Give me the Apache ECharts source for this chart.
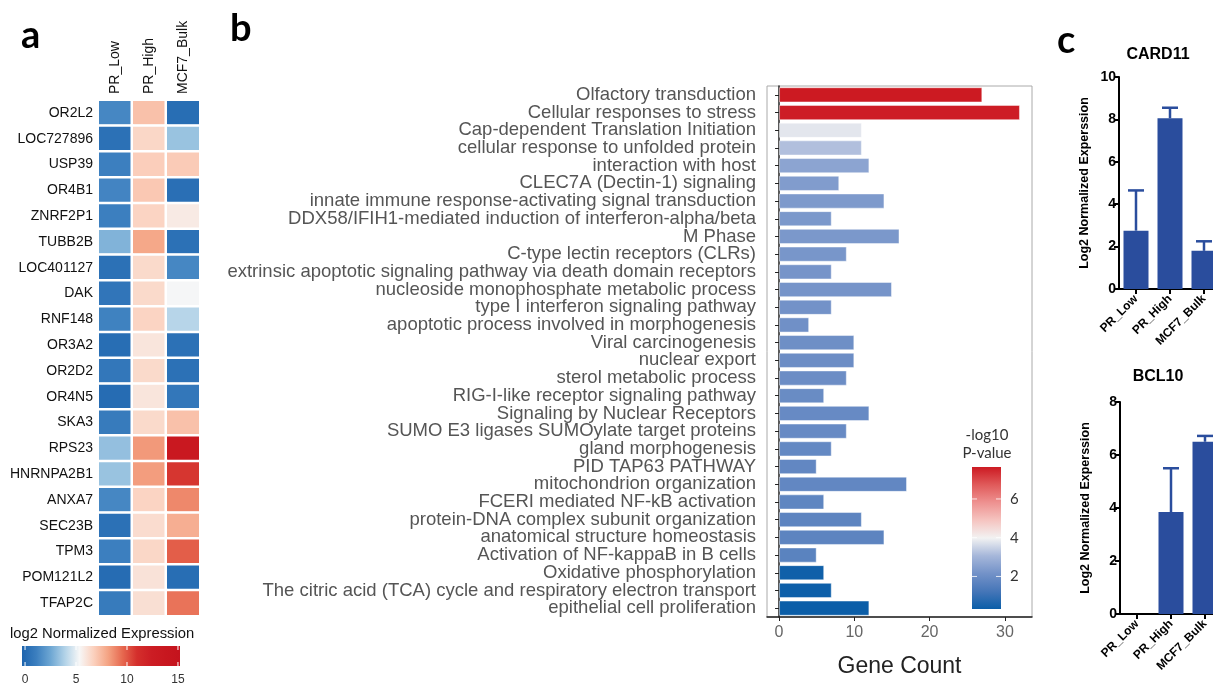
<!DOCTYPE html>
<html>
<head>
<meta charset="utf-8">
<script src="https://cdn.jsdelivr.net/npm/echarts@6/dist/echarts.min.js"></script>
<style>
html, body { margin: 0; padding: 0; background: #fff; }
#main { width: 1213px; height: 686px; }
</style>
</head>
<body>
<div id="main"></div>
<script>
// ---------- Panel a: log2 normalized expression heatmap ----------
const heatSamples = ['PR_Low', 'PR_High', 'MCF7_Bulk'];
const heatGenes = ['OR2L2', 'LOC727896', 'USP39', 'OR4B1', 'ZNRF2P1', 'TUBB2B', 'LOC401127', 'DAK',
  'RNF148', 'OR3A2', 'OR2D2', 'OR4N5', 'SKA3', 'RPS23', 'HNRNPA2B1', 'ANXA7', 'SEC23B', 'TPM3',
  'POM121L2', 'TFAP2C'];
const heatPRLow  = [1.4, 0.4, 1.1, 1.3, 1.1, 2.9, 0.4, 0.6, 1.2, 0.2, 0.7, 0.1, 0.9, 3.3, 3.4, 1.4, 0.4, 1.1, 0.1, 0.9];
const heatPRHigh = [7.2, 6.5, 6.8, 7.0, 6.6, 8.0, 6.4, 6.4, 6.6, 6.0, 6.4, 6.0, 6.4, 8.4, 8.3, 6.6, 6.3, 6.5, 6.1, 6.2];
const heatMCF7   = [0.2, 3.4, 6.9, 0.3, 5.8, 0.4, 1.4, 5.3, 4.0, 0.4, 0.4, 0.7, 7.2, 13.5, 10.8, 8.8, 7.8, 9.8, 0.2, 9.3];
const heatLegendTicks = [0, 5, 10, 15];
const heatMin = -0.3, heatMax = 15.2;
const heatPalette = ['#1d64ae', '#3c7fbf', '#6ea7d3', '#b3d3e8', '#f7f7f7', '#fbd0bd',
  '#f4a383', '#e6684f', '#d42f2c', '#cc1d24', '#c8171f', '#c4131d'];

// ---------- Panel b: enriched pathways ----------
const pathways = [
  'Olfactory transduction',
  'Cellular responses to stress',
  'Cap-dependent Translation Initiation',
  'cellular response to unfolded protein',
  'interaction with host',
  'CLEC7A (Dectin-1) signaling',
  'innate immune response-activating signal transduction',
  'DDX58/IFIH1-mediated induction of interferon-alpha/beta',
  'M Phase',
  'C-type lectin receptors (CLRs)',
  'extrinsic apoptotic signaling pathway via death domain receptors',
  'nucleoside monophosphate metabolic process',
  'type I interferon signaling pathway',
  'apoptotic process involved in morphogenesis',
  'Viral carcinogenesis',
  'nuclear export',
  'sterol metabolic process',
  'RIG-I-like receptor signaling pathway',
  'Signaling by Nuclear Receptors',
  'SUMO E3 ligases SUMOylate target proteins',
  'gland morphogenesis',
  'PID TAP63 PATHWAY',
  'mitochondrion organization',
  'FCERI mediated NF-kB activation',
  'protein-DNA complex subunit organization',
  'anatomical structure homeostasis',
  'Activation of NF-kappaB in B cells',
  'Oxidative phosphorylation',
  'The citric acid (TCA) cycle and respiratory electron transport',
  'epithelial cell proliferation'
];
const geneCounts = [27, 32, 11, 11, 12, 8, 14, 7, 16, 9, 7, 15, 7, 4, 10, 10,
  9, 6, 12, 9, 7, 5, 17, 6, 11, 14, 5, 6, 7, 12];
const negLog10P = [7.65, 7.6, 3.8, 3.2, 2.6, 2.4, 2.35, 2.3, 2.3, 2.25, 2.2, 2.2, 2.15, 2.1, 2.05, 2.0,
  2.0, 1.95, 1.9, 1.9, 1.85, 1.8, 1.8, 1.75, 1.7, 1.7, 1.65, 0.4, 0.35, 0.32];
const countTicks = [0, 10, 20, 30];
const pvalTicks = [2, 4, 6];
const countMin = -1.6, countMax = 33.6;
const pvalMin = 0.32, pvalMax = 7.65;
const pvalPalette = ['#0b5ea8', '#4676b8', '#7392c8', '#a6b7da', '#f2f2f2',
  '#f5c4c0', '#ee9190', '#e05a5a', '#cc1a22'];

// ---------- Panel c: single-gene expression ----------
const barSamples = ['PR_Low', 'PR_High', 'MCF7_Bulk'];
const card11Mean = [2.75, 8.05, 1.8];
const card11Err  = [1.9, 0.5, 0.45];
const bcl10Mean  = [0, 3.85, 6.5];
const bcl10Err   = [0, 1.65, 0.22];

const ARIAL = "'Liberation Sans', Arial, sans-serif";
const CAL = "Lato, 'Open Sans', sans-serif";
const BLUE = '#2a4d9d';

const chart = echarts.init(document.getElementById('main'), null, { renderer: 'canvas' });

function gradientStops(pal) {
  return pal.map((c, i) => ({ offset: i / (pal.length - 1), color: c }));
}

// horizontal colour bar for the heatmap legend
function heatBarItem(params, api) {
  const a = api.coord([api.value(0), 0]);
  const b = api.coord([api.value(1), 1]);
  const children = [{
    type: 'rect',
    shape: { x: a[0], y: b[1], width: b[0] - a[0], height: a[1] - b[1] },
    style: { fill: new echarts.graphic.LinearGradient(0, 0, 1, 0, gradientStops(heatPalette)) }
  }];
  heatLegendTicks.forEach(t => {
    const p = api.coord([t, 0]);
    const q = api.coord([t, 1]);
    children.push({ type: 'line', shape: { x1: p[0], y1: q[1], x2: p[0], y2: q[1] + 4 }, style: { stroke: '#fff', lineWidth: 1 } });
    children.push({ type: 'line', shape: { x1: p[0], y1: p[1] - 4, x2: p[0], y2: p[1] }, style: { stroke: '#fff', lineWidth: 1 } });
  });
  return { type: 'group', children };
}

// vertical colour bar for the p-value legend
function pvalBarItem(params, api) {
  const a = api.coord([0, api.value(0)]);
  const b = api.coord([1, api.value(1)]);
  const children = [{
    type: 'rect',
    shape: { x: a[0], y: b[1], width: b[0] - a[0], height: a[1] - b[1] },
    style: { fill: new echarts.graphic.LinearGradient(0, 1, 0, 0, gradientStops(pvalPalette)) }
  }];
  pvalTicks.forEach(t => {
    const l = api.coord([0, t]);
    const r = api.coord([1, t]);
    children.push({ type: 'line', shape: { x1: l[0], y1: l[1], x2: l[0] + 5, y2: l[1] }, style: { stroke: 'rgba(255,255,255,0.8)', lineWidth: 1 } });
    children.push({ type: 'line', shape: { x1: r[0] - 5, y1: r[1], x2: r[0], y2: r[1] }, style: { stroke: 'rgba(255,255,255,0.8)', lineWidth: 1 } });
  });
  return { type: 'group', children };
}

// upward error bar with a cap
function errorItem(params, api) {
  const lo = api.value(1), hi = api.value(2);
  if (hi <= lo) return null;
  const p0 = api.coord([api.value(0), lo]);
  const p1 = api.coord([api.value(0), hi]);
  return {
    type: 'group',
    children: [
      { type: 'line', shape: { x1: p0[0], y1: p0[1], x2: p1[0], y2: p1[1] }, style: { stroke: BLUE, lineWidth: 2.5 } },
      { type: 'line', shape: { x1: p1[0] - 8, y1: p1[1], x2: p1[0] + 8, y2: p1[1] }, style: { stroke: BLUE, lineWidth: 2.5 } }
    ]
  };
}

const heatData = [];
heatGenes.forEach((g, r) => {
  heatData.push([0, r, heatPRLow[r]]);
  heatData.push([1, r, heatPRHigh[r]]);
  heatData.push([2, r, heatMCF7[r]]);
});

function expressionAxes(gridIndex, yMax) {
  return {
    x: {
      type: 'category', gridIndex, data: barSamples,
      axisLine: { show: true, lineStyle: { color: '#000', width: 2 } },
      axisTick: { show: true, alignWithLabel: true, length: 5, lineStyle: { color: '#000', width: 2 } },
      axisLabel: { rotate: 45, interval: 0, fontFamily: ARIAL, fontWeight: 'bold', fontSize: 12, color: '#000', margin: 8 }
    },
    y: {
      type: 'value', gridIndex, min: 0, max: yMax, interval: 2,
      name: 'Log2 Normalized Experssion', nameLocation: 'middle', nameGap: 28,
      nameTextStyle: { fontFamily: ARIAL, fontWeight: 'bold', fontSize: 12.5, color: '#000' },
      axisLine: { show: true, lineStyle: { color: '#000', width: 2 } },
      axisTick: { show: true, length: 5, lineStyle: { color: '#000', width: 2 } },
      axisLabel: { fontFamily: ARIAL, fontWeight: 'bold', fontSize: 14, color: '#000', margin: 3 },
      splitLine: { show: false }
    }
  };
}
const cardAxes = expressionAxes(4, 10);
const bclAxes = expressionAxes(5, 8);

const option = {
  animation: false,
  backgroundColor: '#fff',
  grid: [
    { left: 98, top: 100, width: 102, height: 516, outerBoundsMode: 'none' },
    { left: 22, top: 646, width: 158, height: 20, outerBoundsMode: 'none' },
    { left: 767, top: 86, width: 265, height: 531, show: true, borderColor: '#aaa', borderWidth: 1, outerBoundsMode: 'none' },
    { left: 972, top: 467, width: 29, height: 142, outerBoundsMode: 'none' },
    { left: 1119, top: 77, width: 102, height: 212, outerBoundsMode: 'none' },
    { left: 1120, top: 402, width: 102, height: 212, outerBoundsMode: 'none' }
  ],
  xAxis: [
    {
      type: 'category', gridIndex: 0, data: heatSamples, position: 'top',
      axisLine: { show: false }, axisTick: { show: false },
      axisLabel: { rotate: -90, interval: 0, margin: 6, fontFamily: ARIAL, fontSize: 14, color: '#111' }
    },
    {
      type: 'value', gridIndex: 1, min: heatMin, max: heatMax,
      axisLine: { show: false }, axisTick: { show: false }, splitLine: { show: false },
      axisLabel: { customValues: heatLegendTicks, fontFamily: ARIAL, fontSize: 12, color: '#333', margin: 8 }
    },
    {
      type: 'value', gridIndex: 2, min: countMin, max: countMax,
      name: 'Gene Count', nameLocation: 'middle', nameGap: 38,
      nameTextStyle: { fontFamily: ARIAL, fontSize: 23, color: '#222' },
      axisLine: { show: true, lineStyle: { color: '#222', width: 1.5 } },
      axisTick: { show: true, customValues: countTicks, length: 4, lineStyle: { color: '#222' } },
      axisLabel: { customValues: countTicks, fontFamily: ARIAL, fontSize: 16, color: '#666', margin: 8 },
      splitLine: { show: false }
    },
    {
      type: 'value', gridIndex: 3, min: 0, max: 1, show: false
    },
    cardAxes.x,
    bclAxes.x
  ],
  yAxis: [
    {
      type: 'category', gridIndex: 0, data: heatGenes, inverse: true,
      axisLine: { show: false }, axisTick: { show: false },
      axisLabel: { interval: 0, margin: 5, fontFamily: ARIAL, fontSize: 14, color: '#111' }
    },
    { type: 'value', gridIndex: 1, min: 0, max: 1, show: false },
    {
      type: 'category', gridIndex: 2, data: pathways, inverse: true,
      axisLine: { show: true, lineStyle: { color: '#222', width: 1.5 } },
      axisTick: { show: true, alignWithLabel: true, interval: 0, length: 4, lineStyle: { color: '#222' } },
      axisLabel: { interval: 0, fontFamily: ARIAL, fontSize: 18.5, color: '#555', margin: 11 }
    },
    {
      type: 'value', gridIndex: 3, min: pvalMin, max: pvalMax, position: 'right',
      axisLine: { show: false }, axisTick: { show: false }, splitLine: { show: false },
      axisLabel: { customValues: pvalTicks, fontFamily: CAL, fontSize: 15, color: '#333', margin: 9 }
    },
    cardAxes.y,
    bclAxes.y
  ],
  visualMap: [
    { type: 'continuous', show: false, seriesIndex: 0, dimension: 2, min: heatMin, max: heatMax, inRange: { color: heatPalette } },
    { type: 'continuous', show: false, seriesIndex: 2, dimension: 2, min: pvalMin, max: pvalMax, inRange: { color: pvalPalette } }
  ],
  graphic: [
    { type: 'text', left: 21, top: 17, style: { text: 'a', font: "bold 38px " + CAL, fill: '#000' } },
    { type: 'text', left: 230, top: 10, style: { text: 'b', font: "bold 38px " + CAL, fill: '#000' } },
    { type: 'text', left: 1057, top: 22, style: { text: 'c', font: "bold 38px " + CAL, fill: '#000' } },
    { type: 'text', left: 10, top: 626, style: { text: 'log2 Normalized Expression', font: "14.8px " + ARIAL, fill: '#111' } },
    { type: 'text', x: 987, y: 435, style: { text: '-log10', font: "15px " + CAL, fill: '#333', align: 'center', verticalAlign: 'middle' } },
    { type: 'text', x: 987, y: 453, style: { text: 'P-value', font: "15px " + CAL, fill: '#333', align: 'center', verticalAlign: 'middle' } },
    { type: 'text', x: 1158, y: 55, style: { text: 'CARD11', font: "bold 16px " + ARIAL, fill: '#000', align: 'center', verticalAlign: 'middle' } },
    { type: 'text', x: 1158, y: 377, style: { text: 'BCL10', font: "bold 16px " + ARIAL, fill: '#000', align: 'center', verticalAlign: 'middle' } }
  ],
  series: [
    {
      type: 'heatmap', xAxisIndex: 0, yAxisIndex: 0, data: heatData,
      itemStyle: { borderColor: '#fff', borderWidth: 2.5 }
    },
    {
      type: 'custom', xAxisIndex: 1, yAxisIndex: 1, renderItem: heatBarItem,
      data: [[heatMin, heatMax]], silent: true
    },
    {
      type: 'bar', xAxisIndex: 2, yAxisIndex: 2, barWidth: '86%',
      encode: { x: 0, y: 1 },
      data: pathways.map((p, i) => [geneCounts[i], p, negLog10P[i]]),
      itemStyle: { borderColor: 'rgba(255,255,255,0.45)', borderWidth: 1 }
    },
    {
      type: 'custom', xAxisIndex: 3, yAxisIndex: 3, renderItem: pvalBarItem,
      encode: { y: [0, 1] },
      data: [[pvalMin, pvalMax]], silent: true
    },
    {
      type: 'bar', xAxisIndex: 4, yAxisIndex: 4, barWidth: 25, data: card11Mean,
      itemStyle: { color: BLUE }
    },
    {
      type: 'custom', xAxisIndex: 4, yAxisIndex: 4, renderItem: errorItem,
      encode: { x: 0, y: [1, 2] },
      data: card11Mean.map((m, i) => [i, m, m + card11Err[i]])
    },
    {
      type: 'bar', xAxisIndex: 5, yAxisIndex: 5, barWidth: 25, data: bcl10Mean,
      itemStyle: { color: BLUE }
    },
    {
      type: 'custom', xAxisIndex: 5, yAxisIndex: 5, renderItem: errorItem,
      encode: { x: 0, y: [1, 2] },
      data: bcl10Mean.map((m, i) => [i, m, m + bcl10Err[i]])
    }
  ]
};

chart.setOption(option);
</script>
</body>
</html>
